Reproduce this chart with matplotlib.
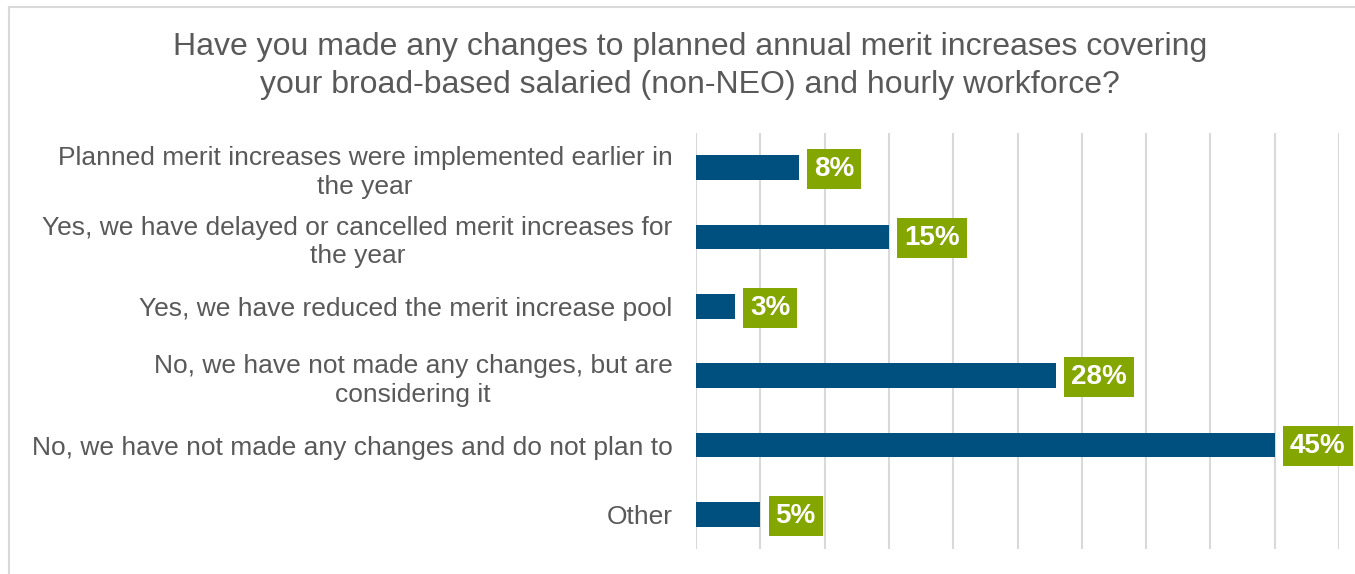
import matplotlib
matplotlib.use("Agg")
import matplotlib.pyplot as plt
from matplotlib.patches import Rectangle

plt.rcParams['font.family'] = ['Liberation Sans', 'DejaVu Sans']

# survey responses, top to bottom
answers = ['Planned merit increases were implemented earlier in\nthe year',
           'Yes, we have delayed or cancelled merit increases for\nthe year',
           'Yes, we have reduced the merit increase pool',
           'No, we have not made any changes, but are\nconsidering it',
           'No, we have not made any changes and do not plan to',
           'Other']
shares = [8, 15, 3, 28, 45, 5]

title = ('Have you made any changes to planned annual merit increases covering\n'
         'your broad-based salaried (non-NEO) and hourly workforce?')

bar_col = '#00507F'
lab_col = '#84A600'
txt_col = '#595959'
grid_col = '#D9D9D9'

fig = plt.figure(figsize=(13.55, 5.74), dpi=100)
# outer frame, only left and top edges fall inside the canvas
fig.patches.append(Rectangle((9 / 1355, -0.05), 1.1, 1.05 - 7 / 574, transform=fig.transFigure,
                             fill=False, edgecolor=grid_col, linewidth=1.5))

ax = fig.add_axes([696 / 1355, 1 - 549 / 574, (1339 - 696) / 1355, (549 - 133) / 574])

ypos = list(range(len(answers)))
ax.barh(ypos, shares, height=0.36, color=bar_col, zorder=3)
ax.set_ylim(len(answers) - 0.5, -0.5)
ax.set_xlim(0, 50)

ax.set_xticks(range(0, 51, 5))
ax.xaxis.grid(True, color=grid_col, linewidth=1.5, zorder=0)
ax.tick_params(axis='x', length=0, labelbottom=False)
ax.set_yticks(ypos)
ax.set_yticklabels(answers, fontsize=19, color=txt_col, linespacing=1.25)
ax.tick_params(axis='y', length=0, pad=17)
for lbl in ax.get_yticklabels():
    lbl.set_horizontalalignment('right')
    lbl.set_multialignment('center')
for s in ax.spines.values():
    s.set_visible(False)

for y, v in zip(ypos, shares):
    ax.annotate('%d%%' % v, xy=(v, y), xytext=(11, -1), textcoords='offset points',
                ha='left', va='center', fontsize=20, fontweight='bold', color='white',
                bbox=dict(boxstyle='square,pad=0.25', facecolor=lab_col, edgecolor='none'),
                zorder=4)

fig.text(690 / 1355, 1 - 66 / 574, title, ha='center', va='center', fontsize=23,
         color=txt_col, linespacing=1.38)

fig.savefig('out.png', dpi=100)
